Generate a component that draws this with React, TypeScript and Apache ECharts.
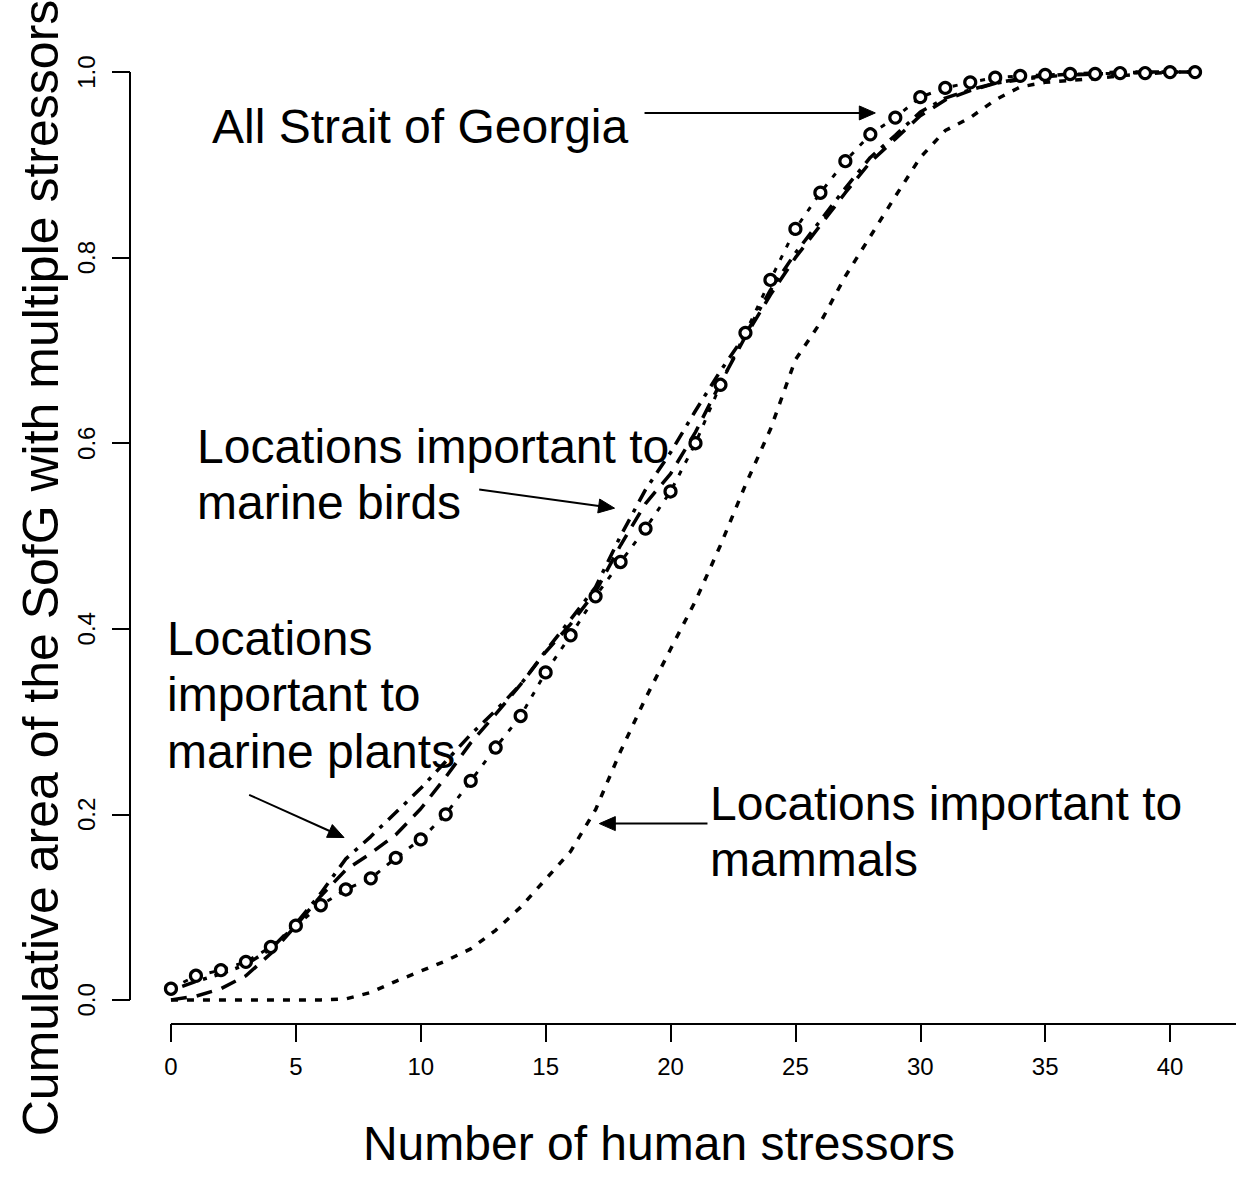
import React, { useEffect, useRef } from "react";
import * as echarts from "echarts";

// ---------------- data ----------------
const stressors = [
  0, 1, 2, 3, 4, 5, 6, 7, 8, 9, 10, 11, 12, 13, 14, 15, 16, 17, 18, 19, 20,
  21, 22, 23, 24, 25, 26, 27, 28, 29, 30, 31, 32, 33, 34, 35, 36, 37, 38, 39, 40, 41,
];

const allStrait = [
  0.012, 0.026, 0.032, 0.041, 0.057, 0.080, 0.102, 0.119, 0.131, 0.153, 0.173,
  0.200, 0.236, 0.272, 0.306, 0.353, 0.393, 0.435, 0.472, 0.508, 0.548,
  0.600, 0.663, 0.719, 0.776, 0.831, 0.870, 0.904, 0.933, 0.951, 0.973,
  0.983, 0.989, 0.994, 0.996, 0.997, 0.998, 0.998, 0.999, 0.999, 1.0, 1.0,
];

const marineBirds = [
  0.000, 0.004, 0.012, 0.026, 0.050, 0.080, 0.112, 0.140, 0.158, 0.178, 0.206,
  0.240, 0.277, 0.308, 0.340, 0.375, 0.405, 0.440, 0.490, 0.535, 0.567,
  0.612, 0.665, 0.715, 0.760, 0.800, 0.835, 0.870, 0.903, 0.928, 0.953,
  0.970, 0.980, 0.988, 0.993, 0.996, 0.998, 0.999, 1.0, 1.0, 1.0, 1.0,
];

const marinePlants = [
  0.010, 0.020, 0.028, 0.038, 0.055, 0.082, 0.115, 0.152, 0.176, 0.202, 0.228,
  0.257, 0.286, 0.312, 0.340, 0.376, 0.410, 0.445, 0.500, 0.550, 0.590,
  0.635, 0.678, 0.717, 0.765, 0.805, 0.840, 0.875, 0.908, 0.932, 0.957,
  0.972, 0.981, 0.988, 0.992, 0.995, 0.997, 0.998, 0.999, 1.0, 1.0, 1.0,
];

const mammals = [
  0.0, 0.0, 0.0, 0.0, 0.0, 0.0, 0.0, 0.001, 0.008, 0.020, 0.031,
  0.042, 0.055, 0.075, 0.100, 0.130, 0.160, 0.205, 0.268, 0.325, 0.378,
  0.430, 0.490, 0.555, 0.615, 0.690, 0.730, 0.780, 0.823, 0.866, 0.908,
  0.937, 0.951, 0.970, 0.984, 0.989, 0.991, 0.993, 0.996, 0.998, 1.0, 1.0,
];

const xTicks = [0, 5, 10, 15, 20, 25, 30, 35, 40];
const yTicks = [0, 0.2, 0.4, 0.6, 0.8, 1.0];

const xTitle = "Number of human stressors";
const yTitle = "Cumulative area of the SofG with multiple stressors";

// annotation labels (text lines)
const labelAll = ["All Strait of Georgia"];
const labelBirds = ["Locations important to", "marine birds"];
const labelPlants = ["Locations", "important to", "marine plants"];
const labelMammals = ["Locations important to", "mammals"];

// arrows in data coordinates: [tailX, tailY, headX, headY]
const arrowAll = [18.96, 0.956, 28.2, 0.956];
const arrowBirds = [12.34, 0.55, 17.76, 0.53];
const arrowPlants = [3.13, 0.221, 6.93, 0.175];
const arrowMammals = [21.48, 0.19, 17.15, 0.19];

const FONT_FAMILY = "'Liberation Sans', Arial, Helvetica, sans-serif";
const BIG = 48;
const YTITLE = 50;

function pairs(ys: number[]) {
  return stressors.map((x, i) => [x, ys[i]]);
}

export default function App() {
  const ref = useRef<HTMLDivElement>(null);

  useEffect(() => {
    const el = ref.current;
    if (!el) return;
    const chart = echarts.init(el, undefined, { renderer: "svg" });

    const option: any = {
      animation: false,
      backgroundColor: "#ffffff",
      grid: { left: 130, right: 5, top: 48, bottom: 157, containLabel: false },
      xAxis: {
        type: "value",
        min: -1.64,
        max: 42.64,
        splitLine: { show: false },
        axisLine: { show: false, onZero: false },
        axisTick: {
          show: true,
          inside: false,
          customValues: xTicks,
          length: 18,
          lineStyle: { color: "#000", width: 2 },
        },
        axisLabel: {
          show: true,
          customValues: xTicks,
          margin: 30,
          color: "#000",
          fontSize: 24,
          fontFamily: FONT_FAMILY,
          formatter: (v: number) => String(v),
        },
      },
      yAxis: {
        type: "value",
        min: -0.026,
        max: 1.026,
        splitLine: { show: false },
        axisLine: { show: false, onZero: false },
        axisTick: {
          show: true,
          inside: false,
          customValues: yTicks,
          length: 18,
          lineStyle: { color: "#000", width: 2 },
        },
        axisLabel: {
          show: true,
          customValues: yTicks,
          rotate: 90,
          margin: 32,
          color: "#000",
          fontSize: 24,
          fontFamily: FONT_FAMILY,
          formatter: (v: number) => v.toFixed(1),
        },
      },
      series: [
        {
          name: "Locations important to mammals",
          type: "line",
          data: pairs(mammals),
          showSymbol: false,
          symbol: "none",
          lineStyle: { color: "#000", width: 3.5, type: [7, 9], cap: "butt" },
          z: 2,
        },
        {
          name: "Locations important to marine birds",
          type: "line",
          data: pairs(marineBirds),
          showSymbol: false,
          symbol: "none",
          lineStyle: { color: "#000", width: 3.5, type: [16, 10], cap: "butt" },
          z: 3,
        },
        {
          name: "Locations important to marine plants",
          type: "line",
          data: pairs(marinePlants),
          showSymbol: false,
          symbol: "none",
          lineStyle: { color: "#000", width: 3.5, type: [4, 8, 14, 8], cap: "butt" },
          z: 3,
        },
        {
          name: "All Strait of Georgia",
          type: "line",
          data: pairs(allStrait),
          showSymbol: false,
          symbol: "none",
          lineStyle: { color: "#000", width: 3, type: [5, 9], cap: "butt" },
          z: 4,
        },
        {
          name: "All Strait of Georgia (points)",
          type: "scatter",
          data: pairs(allStrait),
          symbol: "circle",
          symbolSize: 11,
          itemStyle: { color: "#ffffff", borderColor: "#000000", borderWidth: 3.2, opacity: 1 },
          z: 6,
        },
      ],
    };

    chart.setOption(option);

    const px = (x: number, y: number) =>
      chart.convertToPixel({ gridIndex: 0 }, [x, y]) as number[];

    const graphics: any[] = [];

    // axis lines spanning the tick range (R style)
    const x0 = px(0, 0);
    const xEndRight = px(42.64, 0);
    const axisY = px(0, -0.026)[1];
    graphics.push({
      type: "line",
      shape: { x1: x0[0], y1: axisY, x2: xEndRight[0], y2: axisY },
      style: { stroke: "#000", lineWidth: 2 },
      z: 10,
    });
    const y0 = px(0, 0);
    const y1 = px(0, 1);
    const axisX = px(-1.64, 0)[0];
    graphics.push({
      type: "line",
      shape: { x1: axisX, y1: y0[1], x2: axisX, y2: y1[1] },
      style: { stroke: "#000", lineWidth: 2 },
      z: 10,
    });

    // arrows
    const addArrow = (a: number[]) => {
      const t = px(a[0], a[1]);
      const h = px(a[2], a[3]);
      const dx = h[0] - t[0];
      const dy = h[1] - t[1];
      const len = Math.sqrt(dx * dx + dy * dy);
      const ux = dx / len;
      const uy = dy / len;
      const headLen = 16;
      const halfW = 7;
      const bx = h[0] - ux * headLen;
      const by = h[1] - uy * headLen;
      graphics.push({
        type: "line",
        shape: { x1: t[0], y1: t[1], x2: bx + ux * 2, y2: by + uy * 2 },
        style: { stroke: "#000", lineWidth: 2 },
        z: 10,
      });
      graphics.push({
        type: "polygon",
        shape: {
          points: [
            [h[0], h[1]],
            [bx - uy * halfW, by + ux * halfW],
            [bx + uy * halfW, by - ux * halfW],
          ],
        },
        style: { fill: "#000", stroke: "#000", lineWidth: 1 },
        z: 10,
      });
    };
    addArrow(arrowAll);
    addArrow(arrowBirds);
    addArrow(arrowPlants);
    addArrow(arrowMammals);

    // annotation texts (baseline positions)
    const addLines = (lines: string[], x: number, baseline: number) => {
      lines.forEach((ln, i) => {
        graphics.push({
          type: "text",
          x,
          y: baseline + i * 56.5 - BIG * 0.3465,
          style: {
            text: ln,
            fill: "#000",
            font: `${BIG}px ${FONT_FAMILY}`,
            textAlign: "left",
            textVerticalAlign: "middle",
          },
          z: 12,
        });
      });
    };
    addLines(labelAll, 212, 143);
    addLines(labelBirds, 197, 463);
    addLines(labelPlants, 167, 655);
    addLines(labelMammals, 710, 820);

    // axis titles
    graphics.push({
      type: "text",
      x: 659,
      y: 1160 - BIG * 0.3465,
      style: {
        text: xTitle,
        fill: "#000",
        font: `${BIG}px ${FONT_FAMILY}`,
        textAlign: "center",
        textVerticalAlign: "middle",
      },
      z: 12,
    });
    graphics.push({
      type: "text",
      x: 41,
      y: 568,
      rotation: Math.PI / 2,
      style: {
        text: yTitle,
        fill: "#000",
        font: `${YTITLE}px ${FONT_FAMILY}`,
        textAlign: "center",
        textVerticalAlign: "middle",
      },
      z: 12,
    });

    chart.setOption({ graphic: graphics });

    return () => {
      chart.dispose();
    };
  }, []);

  return (
    <div
      ref={ref}
      style={{ position: "fixed", left: 0, top: 0, width: 1241, height: 1181, background: "#fff" }}
    />
  );
}
